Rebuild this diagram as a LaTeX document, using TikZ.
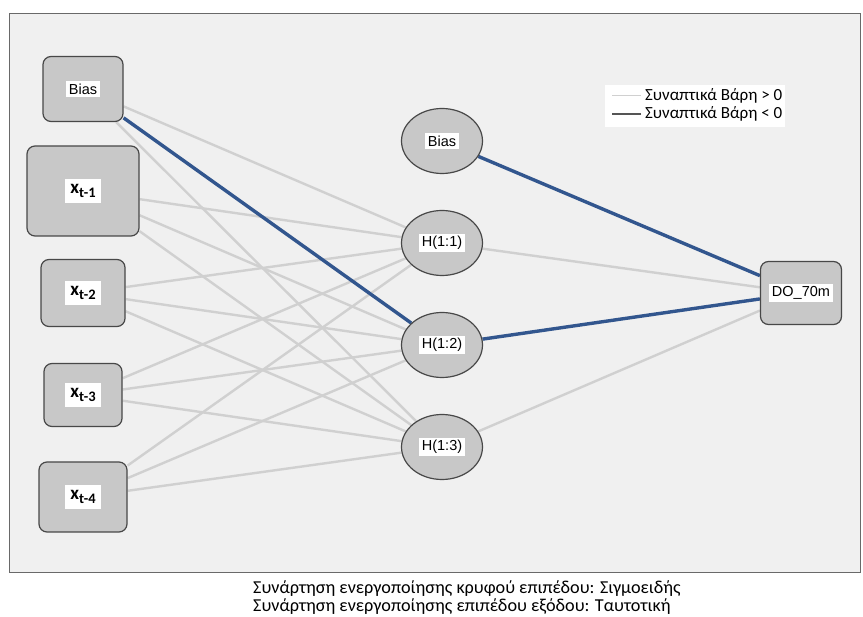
\documentclass[tikz,border=0pt]{standalone}
\usepackage{fontspec}
\setmainfont{Liberation Sans}
\newfontfamily\capfont{Carlito}
\usetikzlibrary{
  positioning,
  shapes.geometric,
  backgrounds
}
\definecolor{PanelGray}{RGB}{240,240,240}
\definecolor{FrameGray}{RGB}{105,105,105}
\definecolor{NodeGray}{RGB}{200,200,200}
\definecolor{BorderGray}{RGB}{72,72,72}
\definecolor{PosGray}{RGB}{208,208,208}
\definecolor{NegBlue}{RGB}{50,86,142}
\definecolor{LegendDark}{RGB}{85,85,85}
\newcommand{\wlabel}[2][2.5pt]{{\setlength{\fboxsep}{#1}\colorbox{white}{#2}}}
\newcommand{\xlag}[1]{\wlabel[5.5pt]{\capfont\bfseries\fontsize{19}{19}\selectfont x\raisebox{-4pt}{\fontsize{14.5}{14.5}\selectfont t-#1}}}
\tikzset{
  inputnode/.style={draw=BorderGray,fill=NodeGray,rounded corners=8pt,line width=1.2pt,inner sep=0pt,font=\fontsize{14.5}{16}\selectfont},
  hiddennode/.style={ellipse,draw=BorderGray,fill=NodeGray,line width=1.2pt,inner sep=0pt,minimum width=81pt,minimum height=65pt,font=\fontsize{14.5}{16}\selectfont},
  outputnode/.style={draw=BorderGray,fill=NodeGray,rounded corners=8pt,line width=1.2pt,inner sep=0pt,minimum width=81pt,minimum height=63pt,font=\fontsize{14.5}{16}\selectfont},
  poswt/.style={draw=PosGray,line width=2.4pt},
  negwt/.style={draw=NegBlue,line width=3.4pt},
  legendtext/.style={anchor=west,inner sep=0pt,font=\capfont\fontsize{17}{19}\selectfont}
}
\begin{document}
\begin{tikzpicture}[x=1pt,y=-1pt,node distance=102pt,on grid]
\useasboundingbox (0,0) rectangle (863,617);
% input layer
\node[inputnode, minimum width=80pt, minimum height=65pt] (bias) at (83,89) {\wlabel{Bias}};
\node[inputnode, minimum width=112pt, minimum height=90pt, below=of bias] (x1) {\xlag{1}};
\node[inputnode, minimum width=84pt, minimum height=67pt, below=of x1] (x2) {\xlag{2}};
\node[inputnode, minimum width=78pt, minimum height=63pt, below=of x2] (x3) {\xlag{3}};
\node[inputnode, minimum width=88pt, minimum height=70pt, below=of x3] (x4) {\xlag{4}};
% hidden layer
\node[hiddennode] (hbias) at (442,141) {\wlabel{Bias}};
\node[hiddennode, below=of hbias] (h1) {\wlabel{H(1:1)}};
\node[hiddennode, below=of h1] (h2) {\wlabel{H(1:2)}};
\node[hiddennode, below=of h2] (h3) {\wlabel{H(1:3)}};
% output layer
\node[outputnode] (out) at (801,293) {\wlabel{DO\_70m}};
% legend
\node[legendtext] (lgpos) at (645,96) {Συναπτικά Βάρη > 0};
\node[legendtext] (lgneg) at (645,114) {Συναπτικά Βάρη < 0};
% caption
\node[anchor=north west, align=left, inner sep=0pt, font=\capfont\fontsize{18.2}{18.5}\selectfont] (cap) at (253,580)
  {Συνάρτηση ενεργοποίησης κρυφού επιπέδου: Σιγμοειδής\\Συνάρτηση ενεργοποίησης επιπέδου εξόδου: Ταυτοτική};

\begin{scope}[on background layer]
\draw[FrameGray, fill=PanelGray, line width=1pt] (9,14) rectangle (860,573);
\fill[white] (605,85) rectangle (785,127);
\draw[PosGray, line width=1pt] ([xshift=-4pt]lgpos.west) -- ++(-29,0);
\draw[LegendDark, line width=1.5pt] ([xshift=-4pt]lgneg.west) -- ++(-29,0);
\foreach \a in {bias,x1,x2,x3,x4}
  \foreach \b in {h1,h2,h3}
    \draw[poswt] (\a) -- (\b);
\draw[poswt] (h1) -- (out);
\draw[poswt] (h3) -- (out);
\draw[negwt] (bias) -- (h2);
\draw[negwt] (hbias) -- (out);
\draw[negwt] (h2) -- (out);
\end{scope}
\end{tikzpicture}
\end{document}
